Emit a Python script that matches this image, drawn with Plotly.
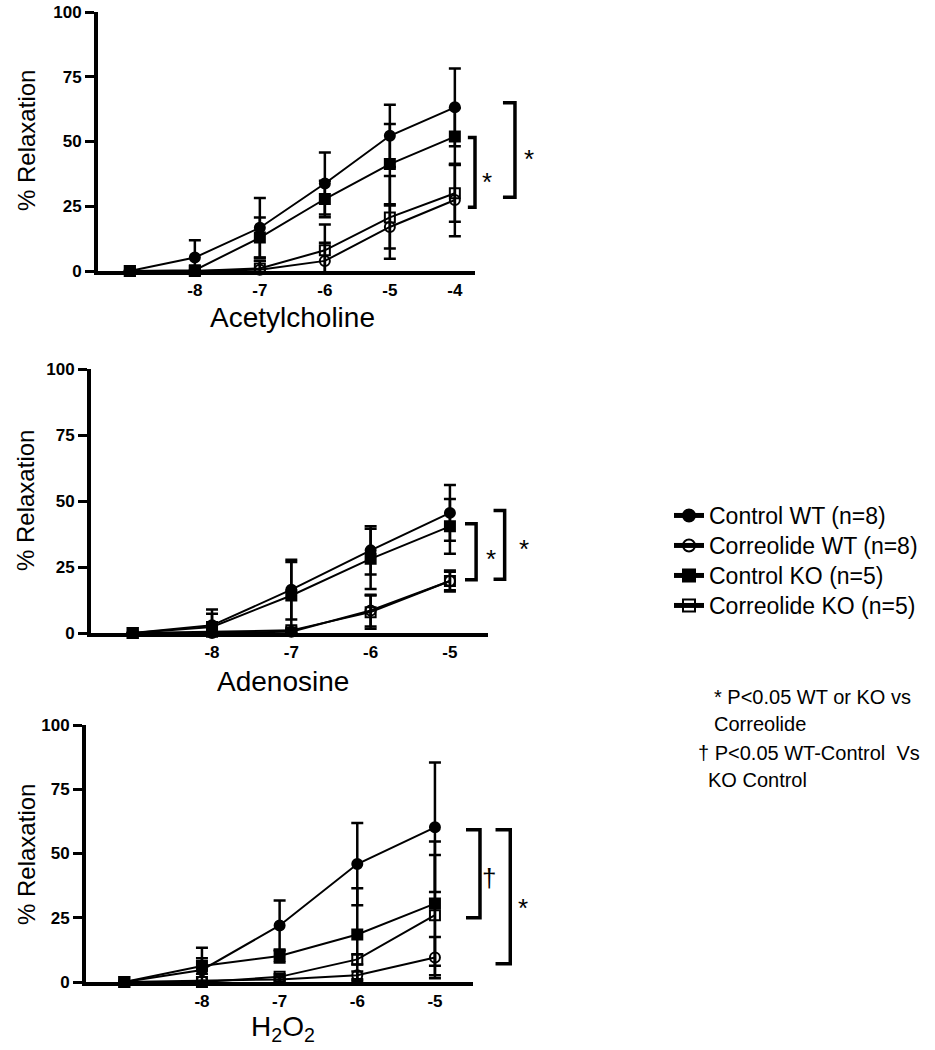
import plotly.graph_objects as go

W, H = 935, 1050
FONT = "Liberation Sans, Arial, Helvetica, sans-serif"

# ------------------------------------------------------------------ data
series_names = ["Control WT (n=8)", "Correolide WT (n=8)",
                "Control KO (n=5)", "Correolide KO (n=5)"]

# Acetylcholine (log M); first point = baseline without agonist
ach_log_conc = [-9, -8, -7, -6, -5, -4]
ach_tick_vals = [-8, -7, -6, -5, -4]
ach_tick_text = ["-8", "-7", "-6", "-5", "-4"]
ach_control_wt = [0, 5.2, 16.7, 33.8, 52.2, 63.2]
ach_control_wt_sem = [0, 6.7, 11.5, 12.0, 12.0, 15.0]
ach_correolide_wt = [0, 0, 0.5, 3.9, 17.0, 27.4]
ach_correolide_wt_sem = [0, 0, 3.5, 7.0, 8.3, 14.0]
ach_control_ko = [0, 0.3, 12.9, 27.8, 41.3, 51.9]
ach_control_ko_sem = [0, 0, 7.8, 7.0, 15.5, 11.0]
ach_correolide_ko = [0, 0, 1.0, 8.0, 20.7, 30.0]
ach_correolide_ko_sem = [0, 0, 3.0, 10.0, 16.0, 11.0]

# Adenosine
ado_log_conc = [-9, -8, -7, -6, -5]
ado_tick_vals = [-8, -7, -6, -5]
ado_tick_text = ["-8", "-7", "-6", "-5"]
ado_control_wt = [0, 2.9, 16.4, 31.3, 45.5]
ado_control_wt_sem = [0, 6.0, 11.3, 9.1, 10.6]
ado_correolide_wt = [0, 0, 0.5, 8.5, 19.7]
ado_correolide_wt_sem = [0, 0, 0.5, 6.0, 4.0]
ado_control_ko = [0, 2.3, 14.2, 28.1, 40.4]
ado_control_ko_sem = [0, 5.0, 12.7, 11.4, 10.4]
ado_correolide_ko = [0, 0.5, 1.0, 7.9, 19.7]
ado_correolide_ko_sem = [0, 0, 1.0, 6.3, 3.5]

# H2O2
h2o2_log_conc = [-9, -8, -7, -6, -5]
h2o2_tick_vals = [-8, -7, -6, -5]
h2o2_tick_text = ["-8", "-7", "-6", "-5"]
h2o2_control_wt = [0, 4.7, 22.0, 45.9, 60.2]
h2o2_control_wt_sem = [0, 8.6, 9.7, 16.0, 25.2]
h2o2_correolide_wt = [0, 0.5, 1.0, 2.6, 9.5]
h2o2_correolide_wt_sem = [0, 0, 1.0, 1.5, 8.0]
h2o2_control_ko = [0, 6.2, 10.1, 18.5, 30.5]
h2o2_control_ko_sem = [0, 3.0, 2.5, 18.0, 24.2]
h2o2_correolide_ko = [0, 0, 2.0, 8.8, 26.0]
h2o2_correolide_ko_sem = [0, 0, 1.0, 2.0, 23.4]

y_tick_vals = [0, 25, 50, 75, 100]
y_title = "% Relaxation"

# ------------------------------------------------------------------ layout constants
panels = [
    dict(x=ach_log_conc, tv=ach_tick_vals, tt=ach_tick_text,
         ys=[ach_control_wt, ach_correolide_wt, ach_control_ko, ach_correolide_ko],
         es=[ach_control_wt_sem, ach_correolide_wt_sem, ach_control_ko_sem, ach_correolide_ko_sem],
         title="Acetylcholine", title_xy=(292, 317), ytitle_y=141,
         left=98, right=475, top=12, bottom=271, xlo=-9.49, xhi=-3.69, xcomp=-2.4,
         brackets=[(-3.80, -3.69, 51.5, 24.6, "*", -3.505, 34.2),
                   (-3.26, -3.075, 65.0, 28.5, "*", -2.86, 43.4)]),
    dict(x=ado_log_conc, tv=ado_tick_vals, tt=ado_tick_text,
         ys=[ado_control_wt, ado_correolide_wt, ado_control_ko, ado_correolide_ko],
         es=[ado_control_wt_sem, ado_correolide_wt_sem, ado_control_ko_sem, ado_correolide_ko_sem],
         title="Adenosine", title_xy=(283, 681), ytitle_y=501,
         left=91, right=488, top=369, bottom=633, xlo=-9.526, xhi=-4.52, xcomp=-3.8,
         brackets=[(-4.81, -4.67, 41.4, 20.2, "*", -4.48, 28.0),
                   (-4.45, -4.31, 46.4, 20.4, "*", -4.07, 31.8)]),
    dict(x=h2o2_log_conc, tv=h2o2_tick_vals, tt=h2o2_tick_text,
         ys=[h2o2_control_wt, h2o2_correolide_wt, h2o2_control_ko, h2o2_correolide_ko],
         es=[h2o2_control_wt_sem, h2o2_correolide_wt_sem, h2o2_control_ko_sem, h2o2_correolide_ko_sem],
         title="H<sub>2</sub>O<sub>2</sub>", title_xy=(283, 1028), ytitle_y=855,
         left=86, right=473, top=725, bottom=982, xlo=-9.493, xhi=-4.51, xcomp=-3.5,
         brackets=[(-4.60, -4.42, 59.2, 25.0, "\u2020", -4.31, 40.5),
                   (-4.22, -4.03, 59.2, 7.1, "*", -3.86, 28.8)]),
]

marker_styles = [
    dict(symbol="circle", size=10),
    dict(symbol="circle-open", size=10),
    dict(symbol="square", size=10),
    dict(symbol="square-open", size=10),
]
# one legend per series so the rows sit at the reference spacing
legend_ids = ["legend", "legend2", "legend3", "legend4"]
legend_row_centers = [515, 545, 575, 605]


def sfx(n):
    return "" if n == 1 else str(n)


fig = go.Figure()
layout = dict(width=W, height=H, margin=dict(l=0, r=0, t=0, b=0, autoexpand=False),
              autosize=False, template="none",
              paper_bgcolor="white", plot_bgcolor="rgba(0,0,0,0)",
              font=dict(family=FONT, color="black"),
              showlegend=True)
annotations = []
shapes = []

tick_font = dict(family=FONT, size=17, color="black", weight="bold")

for p, pn in enumerate(panels):
    i = sfx(p + 1)
    j = sfx(p + 4)
    ppu = (pn["right"] - pn["left"]) / (pn["xhi"] - pn["xlo"])
    ydom = [1 - pn["bottom"] / H, 1 - pn["top"] / H]
    layout[f"xaxis{i}"] = dict(
        domain=[pn["left"] / W, pn["right"] / W], range=[pn["xlo"], pn["xhi"]],
        anchor=f"y{i}", showline=True, linewidth=4, linecolor="black",
        ticks="", tickvals=pn["tv"], ticktext=pn["tt"], tickfont=tick_font,
        ticklabelstandoff=1, showgrid=False, zeroline=False, automargin=False)
    layout[f"yaxis{i}"] = dict(
        domain=ydom, range=[0, 100], anchor=f"x{i}", showline=True, linewidth=4,
        linecolor="black", ticks="outside", ticklen=9, tickwidth=3,
        tickcolor="black", tickvals=y_tick_vals, tickfont=tick_font,
        showgrid=False, zeroline=False, automargin=False)
    comp_right = pn["left"] + (pn["xcomp"] - pn["xlo"]) * ppu
    layout[f"xaxis{j}"] = dict(domain=[pn["left"] / W, comp_right / W],
                               range=[pn["xlo"], pn["xcomp"]], anchor=f"y{j}",
                               visible=False)
    layout[f"yaxis{j}"] = dict(domain=ydom, range=[0, 100], anchor=f"x{j}",
                               visible=False)

    for s in range(4):
        ms = marker_styles[s]
        fig.add_trace(go.Scatter(
            x=pn["x"], y=pn["ys"][s], name=series_names[s],
            mode="lines+markers", showlegend=(p == 0), legend=legend_ids[s],
            line=dict(color="black", width=2),
            marker=dict(symbol=ms["symbol"], size=ms["size"], color="black",
                        line=dict(color="black", width=2)),
            error_y=dict(type="data", array=pn["es"][s], visible=True,
                         color="black", thickness=2.5, width=6),
            cliponaxis=False, xaxis=f"x{i}", yaxis=f"y{i}"))
    # invisible helper trace so the bracket subplot exists
    fig.add_trace(go.Scatter(x=[pn["xlo"]], y=[0], mode="markers",
                             marker=dict(opacity=0), xaxis=f"x{j}", yaxis=f"y{j}",
                             showlegend=False, hoverinfo="skip"))

    for (xl, xv, yt, yb, sym, xt, ytxt) in pn["brackets"]:
        shapes.append(dict(type="path", xref=f"x{j}", yref=f"y{j}",
                           path=f"M {xl},{yt} L {xv},{yt} L {xv},{yb} L {xl},{yb}",
                           line=dict(color="black", width=3.5)))
        annotations.append(dict(xref=f"x{j}", yref=f"y{j}", x=xt, y=ytxt,
                                text=sym, showarrow=False,
                                font=dict(family=FONT, size=26, color="black"),
                                xanchor="center", yanchor="middle"))

    tx, ty = pn["title_xy"]
    annotations.append(dict(xref="paper", yref="paper", x=tx / W, y=1 - ty / H,
                            text=pn["title"], showarrow=False,
                            font=dict(family=FONT, size=28, color="black"),
                            xanchor="center", yanchor="middle"))
    annotations.append(dict(xref="paper", yref="paper", x=26 / W,
                            y=1 - pn["ytitle_y"] / H, text=y_title,
                            textangle=-90, showarrow=False,
                            font=dict(family=FONT, size=24, color="black"),
                            xanchor="center", yanchor="middle"))

foot_lines = [
    ("* P&lt;0.05 WT or KO vs", 712, 697),
    ("Correolide", 712, 724),
    ("\u2020 P&lt;0.05 WT-Control&nbsp; Vs", 696, 753),
    ("KO Control", 706, 780),
]
for txt, fx, fy in foot_lines:
    annotations.append(dict(xref="paper", yref="paper", x=fx / W, y=1 - fy / H,
                            text=txt, showarrow=False,
                            font=dict(family=FONT, size=20, color="black"),
                            xanchor="left", yanchor="middle"))

for lid, cy in zip(legend_ids, legend_row_centers):
    layout[lid] = dict(x=669 / W, y=1 - (cy - 21) / H, xanchor="left", yanchor="top",
                       font=dict(family=FONT, size=23, color="black"),
                       bgcolor="rgba(0,0,0,0)", itemsizing="constant",
                       tracegroupgap=0)
layout["annotations"] = annotations
layout["shapes"] = shapes
fig.update_layout(**layout)

fig.write_html("out.html",
               config={"displayModeBar": False},
               post_script="document.body.style.margin='0px';")
